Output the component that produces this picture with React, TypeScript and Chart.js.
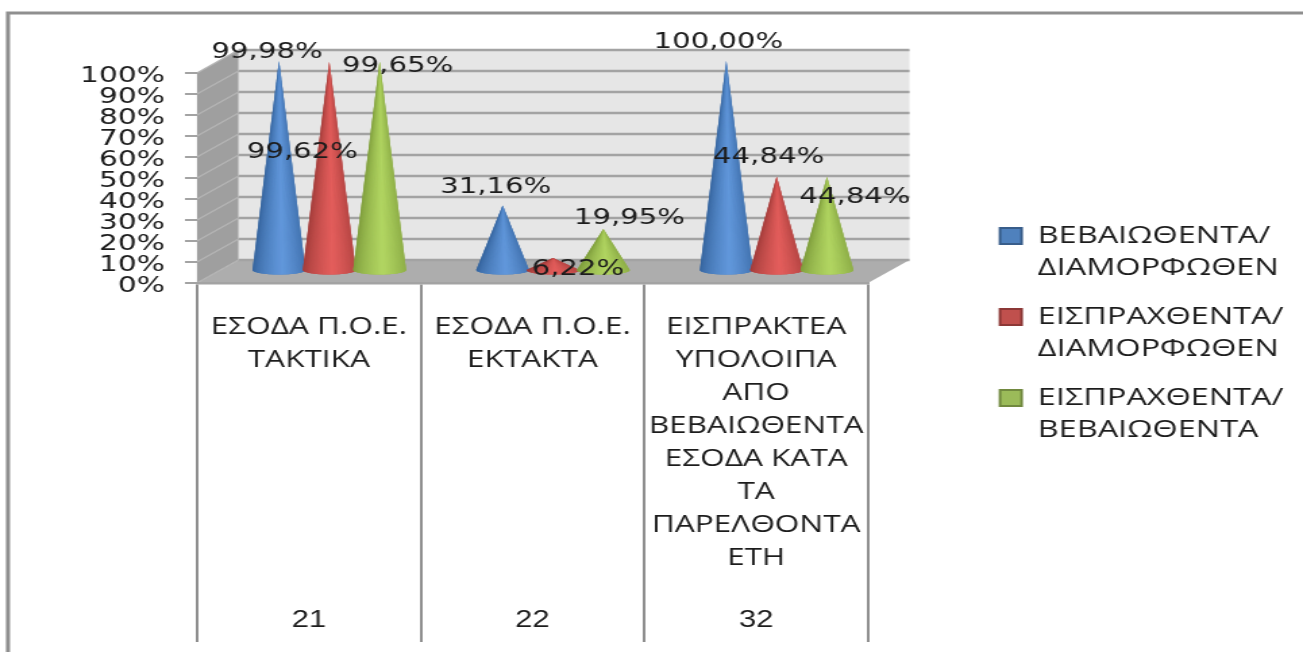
import React, { useEffect, useRef } from "react";
import { Chart, registerables } from "chart.js";

Chart.register(...registerables);

const categories = [
  ["ΕΣΟΔΑ Π.Ο.Ε.", "ΤΑΚΤΙΚΑ"],
  ["ΕΣΟΔΑ Π.Ο.Ε.", "ΕΚΤΑΚΤΑ"],
  ["ΕΙΣΠΡΑΚΤΕΑ", "ΥΠΟΛΟΙΠΑ", "ΑΠΟ", "ΒΕΒΑΙΩΘΕΝΤΑ", "ΕΣΟΔΑ ΚΑΤΑ", "ΤΑ", "ΠΑΡΕΛΘΟΝΤΑ", "ΕΤΗ"],
];
const codes = ["21", "22", "32"];
const beveomena = [99.98, 31.16, 100.0];
const eispraxthenta = [99.62, 6.22, 44.84];
const eispraxthentaBev = [99.65, 19.95, 44.84];
const seriesNames = [
  ["ΒΕΒΑΙΩΘΕΝΤΑ/", "ΔΙΑΜΟΡΦΩΘΕΝ"],
  ["ΕΙΣΠΡΑΧΘΕΝΤΑ/", "ΔΙΑΜΟΡΦΩΘΕΝ"],
  ["ΕΙΣΠΡΑΧΘΕΝΤΑ/", "ΒΕΒΑΙΩΘΕΝΤΑ"],
];
// label nudges from each cone tip, in page pixels [dx, dy], per series then category
const labelNudges = [
  [[-12, -9], [-7, -18], [-8, -19]],
  [[-27, 91], [25, 11], [-8, -19]],
  [[18, 5], [26, -11], [28, 21]],
];

const PAGE_W = 1303;
const H = 652;
const W = 965;
const SX = PAGE_W / W;
const px = (v: number) => v / SX;

const shades = [
  { edge: [50, 96, 152], light: [98, 152, 220] },
  { edge: [156, 58, 56], light: [228, 94, 92] },
  { edge: [122, 152, 58], light: [178, 214, 98] },
];
const TEXT = "#1c1c1c";
const GRID = "#a3a3a3";
const VALUE_FONT = '21.6px "DejaVu Sans"';

const mix = (a: number[], b: number[], t: number) =>
  `rgb(${a.map((v, i) => Math.round(v + (b[i] - v) * t)).join(",")})`;

const scenePlugin = {
  id: "scene",
  beforeLayout(chart: any) {
    const lg = chart.legend;
    if (lg && !lg.__pinned) {
      lg.__pinned = true;
      const orig = lg.fit;
      lg.fit = function () {
        orig.call(this);
        this.width = px(PAGE_W - 868);
      };
    }
  },
  afterLayout(chart: any) {
    const lg = chart.legend;
    lg.left = px(1000) - 17;
    lg.right = W;
    lg.top = 224 - 17;
    lg.bottom = H;
  },
  beforeDraw(chart: any) {
    const { ctx, chartArea: a, scales } = chart;
    const dx = px(41.5);
    const dy = -23;
    const poly = (pts: number[][], fill: string) => {
      ctx.beginPath();
      pts.forEach((p, i) => (i ? ctx.lineTo(p[0], p[1]) : ctx.moveTo(p[0], p[1])));
      ctx.closePath();
      ctx.fillStyle = fill;
      ctx.fill();
    };
    ctx.save();
    // outer frame of the picture
    ctx.strokeStyle = "#8f8f8f";
    ctx.lineWidth = 3;
    ctx.beginPath();
    ctx.moveTo(px(8), H);
    ctx.lineTo(px(8), 13);
    ctx.lineTo(W, 13);
    ctx.stroke();
    poly([[a.left + dx, a.top + dy], [a.right + dx, a.top + dy], [a.right + dx, a.bottom + dy], [a.left + dx, a.bottom + dy]], "#e6e6e6");
    poly([[a.left, a.top], [a.left + dx, a.top + dy], [a.left + dx, a.bottom + dy], [a.left, a.bottom]], "#9f9f9f");
    poly([[a.left, a.bottom], [a.left + dx, a.bottom + dy], [a.right + dx, a.bottom + dy], [a.right, a.bottom]], "#adadad");
    scales.y.ticks.forEach((t: any) => {
      const y = scales.y.getPixelForValue(t.value);
      ctx.strokeStyle = "#b4b4b4";
      ctx.lineWidth = 1.5;
      ctx.beginPath();
      ctx.moveTo(a.left, y);
      ctx.lineTo(a.left + dx, y + dy);
      ctx.stroke();
      ctx.strokeStyle = GRID;
      ctx.lineWidth = 2.5;
      ctx.beginPath();
      ctx.moveTo(a.left + dx, y + dy);
      ctx.lineTo(a.right + dx, y + dy);
      ctx.stroke();
    });
    ctx.restore();
  },
  beforeDatasetDraw() {
    return false;
  },
  afterDatasetsDraw(chart: any) {
    const { ctx } = chart;
    const ox = px(20.5);
    const oy = -12;
    ctx.save();
    chart.data.datasets.forEach((_: any, s: number) => {
      const meta = chart.getDatasetMeta(s);
      const shade = shades[s];
      meta.data.forEach((el: any) => {
        const cx = el.x + ox;
        const tip = el.y + oy;
        const by = el.base + oy;
        const rx = (el.width / 2) * 1.05;
        const ry = 4.5;
        const N = 48;
        ctx.beginPath();
        ctx.moveTo(cx, tip);
        ctx.lineTo(cx + rx, by);
        ctx.ellipse(cx, by, rx, ry, 0, 0, Math.PI);
        ctx.closePath();
        ctx.fillStyle = mix(shade.edge, shade.light, 0.5);
        ctx.fill();
        for (let k = 0; k < N; k++) {
          const a0 = (Math.PI * k) / N;
          const a1 = (Math.PI * (k + 1.6)) / N;
          const aEnd = Math.min(a1, Math.PI);
          const t = (1 + Math.cos((a0 + aEnd) / 2)) / 2;
          const d = Math.abs(t - 0.55) / 0.55;
          const f = Math.pow(1 - Math.min(d, 1), 0.6);
          ctx.beginPath();
          ctx.moveTo(cx, tip);
          ctx.lineTo(cx + rx * Math.cos(a0), by + ry * Math.sin(a0));
          ctx.lineTo(cx + rx * Math.cos(aEnd), by + ry * Math.sin(aEnd));
          ctx.closePath();
          ctx.fillStyle = mix(shade.edge, shade.light, f);
          ctx.fill();
        }
      });
    });
    // value labels sit above every cone
    ctx.font = VALUE_FONT;
    ctx.fillStyle = TEXT;
    ctx.textAlign = "center";
    ctx.textBaseline = "middle";
    chart.data.datasets.forEach((ds: any, s: number) => {
      chart.getDatasetMeta(s).data.forEach((el: any, i: number) => {
        const text = ds.data[i].toFixed(2).replace(".", ",") + "%";
        const n = labelNudges[s][i];
        ctx.fillText(text, el.x + ox + px(n[0]), el.y + oy + n[1]);
      });
    });
    ctx.restore();
  },
};

export default function App() {
  const ref = useRef<HTMLCanvasElement | null>(null);
  useEffect(() => {
    if (!ref.current) return;
    const chart = new Chart(ref.current, {
      type: "bar",
      data: {
        labels: categories as any,
        datasets: [
          { label: seriesNames[0] as any, data: beveomena, backgroundColor: "#4f81bd", borderColor: "#385d8a", borderWidth: 2 },
          { label: seriesNames[1] as any, data: eispraxthenta, backgroundColor: "#c0504d", borderColor: "#8c3836", borderWidth: 2 },
          { label: seriesNames[2] as any, data: eispraxthentaBev, backgroundColor: "#9bbb59", borderColor: "#71893f", borderWidth: 2 },
        ],
      },
      options: {
        responsive: false,
        animation: false,
        devicePixelRatio: 1,
        layout: { padding: { top: 73, left: 0, right: 0, bottom: 0 } },
        categoryPercentage: 0.675,
        barPercentage: 1,
        plugins: {
          tooltip: { enabled: false },
          title: { display: false },
          legend: {
            position: "right",
            align: "start",
            labels: {
              color: TEXT,
              boxWidth: 16,
              boxHeight: 16,
              padding: 17,
              font: { family: '"Open Sans"', size: 24, lineHeight: 32 / 24 },
            },
          },
        },
        scales: {
          y: {
            min: 0,
            max: 100,
            afterFit: (s: any) => {
              s.width = px(197);
            },
            border: { display: false },
            grid: { drawOnChartArea: false, color: GRID, lineWidth: 2, tickLength: px(12) },
            ticks: {
              autoSkip: false,
              stepSize: 10,
              padding: px(20),
              labelOffset: 3,
              color: TEXT,
              font: { family: '"DejaVu Sans"', size: 22 },
              callback: (v: any) => v + "%",
            },
          },
          x: {
            offset: true,
            afterFit: (s: any) => {
              s.height = 322;
            },
            border: { display: true, color: GRID, width: 2.5 },
            grid: { offset: true, drawOnChartArea: false, color: "#8f8f8f", lineWidth: 2, tickLength: 359 },
            ticks: {
              autoSkip: false,
              maxRotation: 0,
              minRotation: 0,
              padding: -331,
              color: TEXT,
              font: { family: '"Open Sans"', size: 23.4, lineHeight: 33 / 23.4 },
            },
          },
          x2: {
            type: "category",
            position: "bottom",
            labels: codes,
            offset: true,
            afterFit: (s: any) => {
              s.height = 47;
            },
            border: { display: false },
            grid: { display: false, drawTicks: false },
            ticks: {
              autoSkip: false,
              maxRotation: 0,
              padding: 2,
              color: TEXT,
              font: { family: '"Liberation Sans"', size: 23 },
            },
          },
        },
      } as any,
      plugins: [scenePlugin as any],
    });
    return () => chart.destroy();
  }, []);
  return (
    <canvas
      ref={ref}
      width={W}
      height={H}
      style={{ position: "absolute", left: 0, top: 0, width: PAGE_W, height: H, filter: "blur(0.4px)" }}
    />
  );
}
